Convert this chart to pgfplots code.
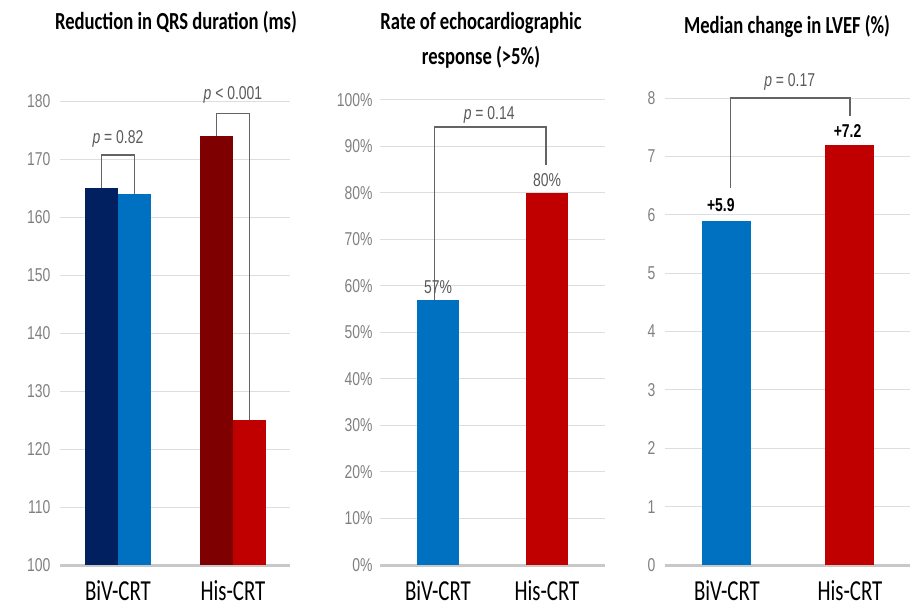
\documentclass[border=0pt]{standalone}
\usepackage{fontspec}
\usepackage{pgfplots}
\pgfplotsset{compat=1.18}
\setmainfont{Liberation Sans}
\newfontfamily\ttl[FakeStretch=0.72]{Carlito}
\newfontfamily\ttlb[FakeStretch=0.76]{Carlito}
\newfontfamily\tck[FakeStretch=0.75]{Liberation Sans}
\definecolor{navy}{RGB}{0,32,96}
\definecolor{lblue}{RGB}{0,112,192}
\definecolor{dred}{RGB}{127,0,0}
\definecolor{bred}{RGB}{192,0,0}
\definecolor{gridgrey}{RGB}{222,222,222}
\definecolor{axisgrey}{RGB}{200,200,200}
\definecolor{tickgrey}{RGB}{128,128,128}
\definecolor{pgrey}{RGB}{90,90,90}
\definecolor{brgrey}{RGB}{100,100,100}
\newcommand\tickfont{\tck\fontsize{18.6}{20}\selectfont}
\newcommand\xlabfont{\ttl\fontsize{29}{30}\selectfont}
\newcommand\titlefont{\ttlb\bfseries\fontsize{24.5}{27}\selectfont}
\tikzset{bracket/.style={draw=brgrey, line width=1.3pt}}
\pgfplotsset{
  panel/.style={
    scale only axis,
    axis x line*=bottom,
    axis y line*=left,
    y axis line style={draw=none},
    x axis line style={draw=axisgrey, line width=3pt},
    major tick length=0pt,
    ymajorgrids,
    grid style={draw=gridgrey, line width=1pt},
    xtick={0,1}, xticklabels={BiV-CRT,His-CRT},
    xticklabel style={font=\xlabfont, text=black, yshift=-12pt},
    yticklabel style={font=\tickfont, text=tickgrey},
    /pgf/number format/assume math mode=true,
    ybar, clip=false, anchor=south west,
  },
}
\begin{document}
\begin{tikzpicture}[x=1pt,y=1pt]
\useasboundingbox (0,0) rectangle (918,608);
% Panel 1
\begin{axis}[panel, at={(60pt,43pt)}, width=230pt, height=464pt,
  xmin=-0.504, xmax=1.496, ymin=100, ymax=180, ytick={100,110,...,180},
  yticklabel style={xshift=-6pt}, bar width=33pt]
\addplot[fill=navy, draw=none, bar shift=-16.5pt] coordinates {(0,165)};
\addplot[fill=lblue, draw=none, bar shift=16.5pt] coordinates {(0,164)};
\addplot[fill=dred, draw=none, bar shift=-16.5pt] coordinates {(1,174)};
\addplot[fill=bred, draw=none, bar shift=16.5pt] coordinates {(1,125)};
\draw[bracket] (-0.1435,165) |- (0.1435,170.7) -- (0.1435,164);
\draw[bracket] (0.8565,174) |- (1.1435,177.9) -- (1.1435,125);
\node[font=\tickfont, text=pgrey] at (0,173.4) {\textit{p} = 0.82};
\node[font=\tickfont, text=pgrey] at (1,181.1) {\textit{p} < 0.001};
\end{axis}
% Panel 2
\begin{axis}[panel, at={(380pt,43pt)}, width=225pt, height=465pt,
  xmin=-0.532, xmax=1.532, ymin=0, ymax=100, ytick={0,10,...,100},
  yticklabel={\pgfmathprintnumber{\tick}\%},
  yticklabel style={xshift=-4pt}, bar width=42pt]
\addplot[fill=lblue, draw=none, bar shift=0pt] coordinates {(0,57)};
\addplot[fill=bred, draw=none, bar shift=0pt] coordinates {(1,80)};
\draw[bracket] (-0.03,57) |- (0.99,94.2) -- (0.99,86);
\node[font=\tickfont, text=pgrey] at (0.47,96.8) {\textit{p} = 0.14};
\node[font=\tickfont, text=pgrey] at (0,59.8) {57\%};
\node[font=\tickfont, text=pgrey] at (1,82.8) {80\%};
\end{axis}
% Panel 3
\begin{axis}[panel, at={(665pt,43pt)}, width=245pt, height=467pt,
  xmin=-0.504, xmax=1.488, ymin=0, ymax=8, ytick={0,1,...,8},
  yticklabel style={xshift=-6pt}, bar width=49pt]
\addplot[fill=lblue, draw=none, bar shift=0pt] coordinates {(0,5.9)};
\addplot[fill=bred, draw=none, bar shift=0pt] coordinates {(1,7.2)};
\draw[bracket] (0.03,6.46) |- (1.0,8.0) -- (1.0,7.7);
\node[font=\tickfont, text=pgrey] at (0.51,8.27) {\textit{p} = 0.17};
\node[font=\tickfont\bfseries, text=black] at (-0.05,6.16) {+5.9};
\node[font=\tickfont\bfseries, text=black] at (0.98,7.43) {+7.2};
\end{axis}
% Titles
\node[font=\titlefont, anchor=base] at (176,578) {Reduction in QRS duration (ms)};
\node[font=\titlefont, anchor=base] at (481,578) {Rate of echocardiographic};
\node[font=\titlefont, anchor=base] at (481,543) {response (>5\%)};
\node[font=\titlefont, anchor=base] at (787,574) {Median change in LVEF (\%)};
\end{tikzpicture}
\end{document}
